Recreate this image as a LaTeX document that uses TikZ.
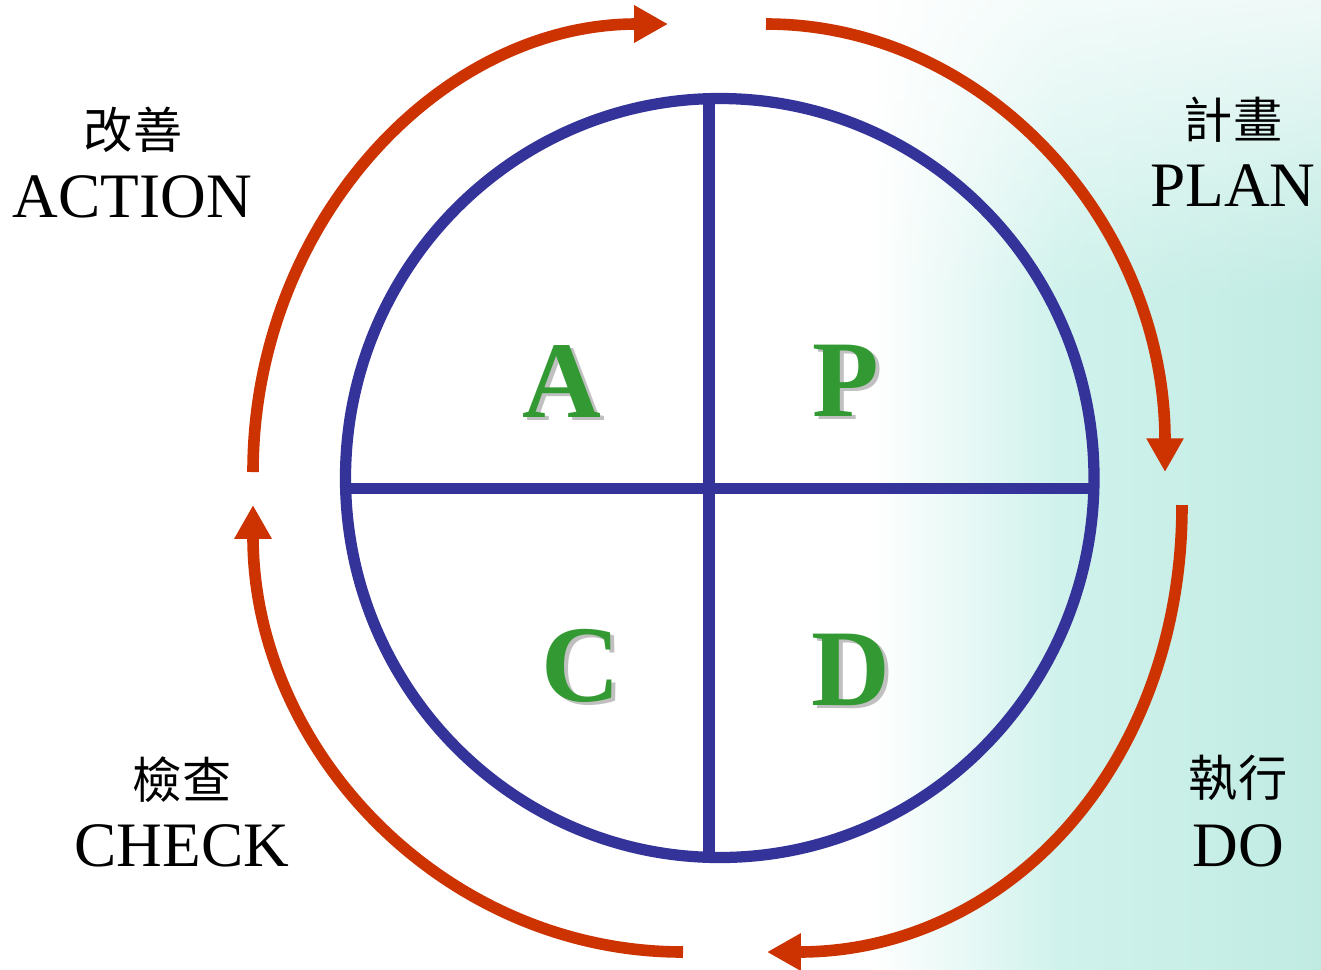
\documentclass[tikz,border=0pt]{standalone}
\usepackage{fontspec}
\setmainfont{Liberation Serif}
\newfontfamily\cjk{Noto Sans CJK TC}
\usetikzlibrary{arrows.meta,fadings}
\definecolor{pblue}{HTML}{333399}
\definecolor{pred}{HTML}{CC3300}
\definecolor{pgreen}{HTML}{339933}
\definecolor{pshadow}{HTML}{C0C0C0}
\definecolor{pteal}{HTML}{D0F2EC}
\definecolor{ptealdark}{HTML}{C0EBE3}
\tikzfading[name=fadetop, top color=transparent!25, bottom color=transparent!100]
\begin{document}
\begin{tikzpicture}[x=0.01cm,y=-0.01cm,
  cyc/.style={draw=pred, line width=3.3pt, -{Triangle[length=9.6pt,width=10pt]}},
  ring/.style={draw=pblue, line width=3.2pt},
  big/.style={font=\fontsize{31}{31}\selectfont\bfseries, inner sep=0pt, anchor=base},
  en/.style={font=\fontsize{18}{18}\selectfont, inner sep=0pt, anchor=base},
  cn/.style={font=\cjk\fontsize{14}{14}\selectfont, inner sep=0pt}]
\useasboundingbox (0,0) rectangle (1321,969);
\fill[white] (0,0) rectangle (1321,969);
\shade[left color=white, right color=pteal] (870,0) rectangle (1060,969);
\shade[left color=pteal, right color=ptealdark] (1059,0) rectangle (1321,969);
\fill[white, path fading=fadetop] (860,0) rectangle (1321,300);

% blue circle with cross
\draw[ring] (719.75,478) ellipse [x radius=374.25, y radius=379.5];
\coordinate (vt) at (709,98.7);
\coordinate (vb) at (709,857.3);
\coordinate (hl) at (345.6,488.5);
\coordinate (hr) at (1093.9,488.5);
\draw[ring] (vt) -- (vb);
\draw[ring] (hl) -- (hr);

% red cycle arcs
\coordinate (tl0) at (253,472);
\coordinate (tl1) at (668,24);
\coordinate (tr0) at (766,24);
\coordinate (tr1) at (1165,472);
\coordinate (br0) at (1182,505);
\coordinate (br1) at (767,952);
\coordinate (bl0) at (683,952);
\coordinate (bl1) at (253,505);
\draw[cyc] (tl0) .. controls (253,224.6) and (438.8,24) .. (tl1);
\draw[cyc] (tr0) .. controls (986.4,24) and (1165,224.6) .. (tr1);
\draw[cyc] (br0) .. controls (1182,764) and (1008,952) .. (br1);
\draw[cyc] (bl0) .. controls (445.5,952) and (253,751.9) .. (bl1);

% big letters with shadow
\node[big, text=pshadow] (As) at (566,420.5) {A};
\node[big, text=pgreen] (A) at (562,417) {A};
\node[big, text=pshadow] (Ps) at (850,419.5) {P};
\node[big, text=pgreen] (P) at (846,416) {P};
\node[big, text=pshadow] (Cs) at (585,704.5) {C};
\node[big, text=pgreen] (C) at (581,701) {C};
\node[big, text=pshadow] (Ds) at (855,708.5) {D};
\node[big, text=pgreen] (D) at (851,705) {D};

% labels
\node[cn] (actcn) at (133,130) {改善};
\node[en] (acten) at (132.5,217) {ACTION};
\node[cn] (plancn) at (1233,120) {計畫};
\node[en] (planen) at (1233,206) {PLAN};
\node[cn] (docn) at (1238,778) {執行};
\node[en] (doen) at (1238,866) {DO};
\node[cn] (chkcn) at (182,780) {檢查};
\node[en] (chken) at (182,866) {CHECK};
\end{tikzpicture}
\end{document}
